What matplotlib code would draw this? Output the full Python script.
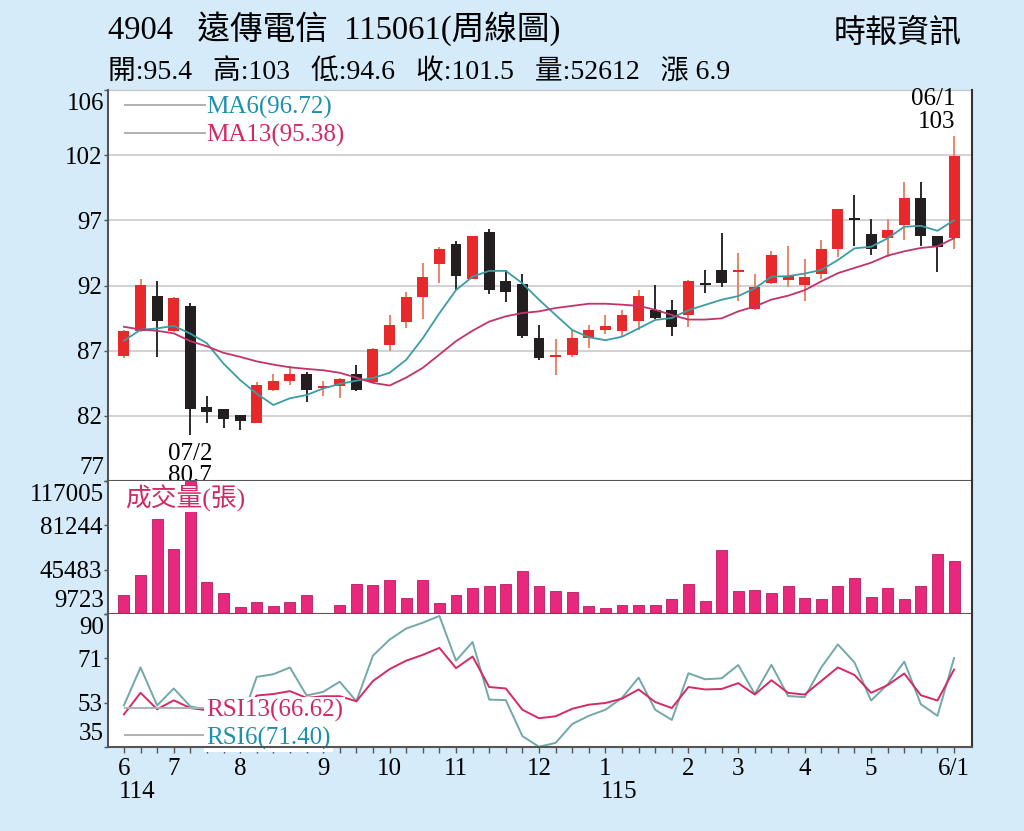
import matplotlib
matplotlib.use("Agg")
import matplotlib.pyplot as plt
from matplotlib.lines import Line2D
from matplotlib.transforms import offset_copy
import numpy as np

plt.rcParams['font.family'] = ['Liberation Serif', 'Noto Sans CJK TC']

# ---------------- data ----------------
opens = [86.6, 88.46, 91.09, 88.46, 90.31, 82.80, 82.61, 82.22, 81.63, 84.07,
         84.75, 85.24, 84.17, 84.36, 85.24, 84.65, 87.38, 89.14, 90.99, 93.43,
         94.98, 92.35, 95.86, 92.16, 91.96, 87.97, 86.51, 86.70, 87.97, 88.55,
         88.46, 89.23, 90.01, 90.01, 89.62, 91.96, 93.04, 92.84, 90.11, 92.06,
         92.26, 91.87, 92.74, 94.59, 96.79, 95.67, 95.37, 96.35, 98.40, 95.57, 95.4]
closes = [88.46, 91.87, 89.23, 90.89, 82.61, 82.41, 81.92, 81.73, 84.46, 84.75,
          85.24, 84.07, 84.36, 84.85, 84.07, 87.09, 88.94, 90.99, 92.45, 94.59,
          92.55, 95.57, 91.48, 91.38, 88.07, 86.41, 86.70, 87.97, 88.55, 88.84,
          89.62, 91.09, 89.43, 88.75, 92.16, 91.91, 92.06, 93.04, 91.77, 94.11,
          92.55, 92.45, 94.59, 97.52, 96.74, 94.55, 95.96, 98.40, 95.57, 94.69, 101.5]
highs = [88.56, 92.36, 92.16, 90.99, 90.51, 83.58, 82.61, 82.22, 84.65, 85.24,
         85.82, 85.43, 84.75, 84.95, 85.92, 87.19, 89.62, 91.38, 93.53, 94.69,
         95.18, 95.57, 96.05, 93.04, 92.74, 88.94, 87.87, 88.55, 88.94, 89.62,
         90.01, 91.48, 91.87, 90.79, 92.26, 93.04, 95.76, 94.30, 92.74, 94.40,
         94.79, 93.82, 95.28, 97.52, 98.59, 96.84, 96.84, 99.57, 99.57, 95.57, 103.0]
lows = [86.43, 88.37, 86.51, 88.37, 80.7, 81.63, 81.24, 81.05, 81.63, 83.97,
        84.46, 83.19, 83.58, 83.48, 83.97, 84.55, 86.99, 88.65, 89.33, 92.06,
        91.48, 92.35, 91.19, 90.60, 87.97, 86.31, 85.14, 86.51, 87.19, 88.26,
        88.07, 88.55, 89.33, 88.07, 88.75, 91.28, 91.77, 90.70, 90.01, 91.96,
        91.77, 90.70, 92.35, 94.01, 94.79, 94.11, 94.01, 95.28, 94.79, 92.84, 94.6]
ma6 = [87.73, 88.55, 88.65, 88.84, 88.26, 87.54, 86.02, 84.80, 83.78, 82.94,
       83.44, 83.68, 84.17, 84.51, 84.75, 84.95, 85.34, 86.31, 87.92, 89.78,
       91.51, 92.51, 92.94, 92.94, 92.01, 90.79, 89.65, 88.53, 87.99, 87.77,
       88.03, 88.65, 89.28, 89.43, 90.01, 90.40, 90.79, 91.06, 91.64, 92.51,
       92.55, 92.74, 93.01, 93.75, 94.62, 94.74, 95.37, 96.23, 96.30, 95.93, 96.72]
ma13 = [88.77, 88.57, 88.47, 88.28, 87.70, 87.31, 86.83, 86.53, 86.19, 85.95,
        85.75, 85.63, 85.53, 85.34, 84.98, 84.59, 84.39, 84.98, 85.71, 86.70,
        87.70, 88.48, 89.16, 89.55, 89.80, 89.92, 90.17, 90.33, 90.49, 90.49,
        90.42, 90.33, 90.04, 89.65, 89.31, 89.31, 89.40, 89.92, 90.29, 90.80,
        91.09, 91.50, 92.16, 92.77, 93.16, 93.55, 94.08, 94.40, 94.65, 94.77, 95.38]
volume = [25290, 40940, 86350, 62150, 117005, 35290, 26660, 15610, 19160, 16180,
          19400, 25290, 9723, 16740, 33920, 33360, 37150, 22630, 37150, 18350,
          25290, 30940, 32550, 33920, 44170, 32060, 28030, 27230, 16420, 14560,
          17220, 17220, 17220, 22060, 33680, 20450, 61590, 28030, 28840, 26660,
          32060, 22630, 22060, 32060, 38760, 23190, 30940, 21820, 32550, 58360, 52612]
rsi6 = [51.8, 67.5, 51.8, 58.8, 51.4, 50.0, 45.0, 44.0, 63.6, 64.7,
        67.5, 55.9, 57.4, 61.6, 53.5, 72.4, 79.0, 83.6, 86.0, 88.8,
        70.3, 78.0, 54.2, 54.0, 39.1, 34.7, 36.3, 44.1, 47.5, 50.0,
        54.9, 63.3, 50.0, 45.8, 65.1, 62.6, 63.0, 68.5, 56.5, 68.6,
        55.7, 55.2, 67.5, 77.0, 69.6, 53.8, 60.5, 69.9, 52.3, 47.5, 71.4]
rsi13 = [48.1, 57.0, 50.2, 53.9, 50.7, 49.8, 48.0, 47.0, 55.9, 56.5,
         57.7, 54.9, 55.6, 55.6, 53.5, 61.9, 66.8, 70.3, 72.7, 75.6,
         67.2, 72.0, 59.4, 58.8, 50.0, 46.5, 47.3, 50.4, 52.1, 52.8,
         54.6, 58.4, 53.2, 50.7, 59.4, 58.4, 58.6, 61.0, 56.3, 62.2,
         57.0, 56.3, 61.9, 67.5, 64.4, 57.0, 60.2, 65.0, 56.0, 53.8, 66.62]

month_idx = [0, 3, 7, 12, 16, 20, 25, 29, 34, 37, 41, 45, 50]
month_labels = ['6', '7', '8', '9', '10', '11', '12', '1', '2', '3', '4', '5', '6/1']
year_idx = [0, 29]
year_labels = ['114', '115']

price_ticks = [77.27, 82.13, 86.99, 91.85, 96.71, 101.57, 106.43]
price_tick_labels = ['77', '82', '87', '92', '97', '102', '106']
vol_ticks = [9723, 45483, 81244, 117005]
vol_tick_labels = ['9723', '45483', '81244', '117005']
rsi_ticks = [34.6, 52.93, 71.27, 89.6]
rsi_tick_labels = ['35', '53', '71', '90']

# ---------------- styling ----------------
BG = '#d5ebf9'
UP = '#e8292b'
DOWN = '#231f20'
UP_WICK = '#ec8468'
DOWN_WICK = '#2a2a2a'
TEAL = '#3b9ca6'
MAG = '#c2336a'
VOLC = '#e8287c'
RSI6C = '#72a8a8'
RSI13C = '#d42a66'
TXT_TEAL = '#1f8fae'
TXT_MAG = '#d12a62'
SPINE = '#555555'
FS = 18

fig = plt.figure(figsize=(10.24, 8.31), dpi=100, facecolor=BG)
W, H = 1024, 831
L = 108 / W
AW = 864 / W
ax1 = fig.add_axes([L, 1 - 481 / H, AW, 391 / H])
ax2 = fig.add_axes([L, 1 - 614 / H, AW, 133 / H], sharex=ax1)
ax3 = fig.add_axes([L, 1 - 747 / H, AW, 133 / H], sharex=ax1)

x = np.arange(len(closes))
xlim = (-0.96, 51.08)

# ---------------- price panel ----------------
for i in range(len(closes)):
    o, c, h, l = opens[i], closes[i], highs[i], lows[i]
    up = c >= o
    ax1.vlines(x[i], l, h, color=UP_WICK if up else DOWN_WICK, lw=1.4, zorder=2)
    body = max(abs(c - o), 0.12)
    ax1.bar(x[i], body, bottom=min(o, c), width=0.66,
            color=UP if up else DOWN, edgecolor='none', zorder=3)

ax1.plot(x, ma6, color=TEAL, lw=1.3, zorder=4)
ax1.plot(x, ma13, color=MAG, lw=1.3, zorder=4)

ax1.set_xlim(*xlim)
ax1.set_ylim(price_ticks[0], price_ticks[-1])
ax1.set_yticks(price_ticks, labels=price_tick_labels)
ax1.yaxis.grid(True, color='#cfcfcf', lw=1.3, zorder=0)
ax1.set_axisbelow(True)
ax1.tick_params(axis='x', which='both', bottom=False, labelbottom=False)

leg1 = ax1.legend([Line2D([], [], color='#b0b0b0', lw=1.4),
                   Line2D([], [], color='#b0b0b0', lw=1.4)],
                  ['MA6(96.72)', 'MA13(95.38)'],
                  loc='upper left', bbox_to_anchor=(0.0197, 0.984),
                  frameon=False, fontsize=FS, handlelength=3.2,
                  handletextpad=0.05, labelspacing=0.18, borderaxespad=0,
                  borderpad=0)
for t, col in zip(leg1.get_texts(), [TXT_TEAL, TXT_MAG]):
    t.set_color(col)

ax1.annotate('07/2\n80.7', xy=(4, lows[4]), xytext=(0, -8),
             textcoords='offset pixels', ha='center', va='top',
             fontsize=FS, linespacing=1.0, clip_on=True, annotation_clip=False)
ax1.annotate('06/1\n103', xy=(50, highs[50]), xytext=(1, 3),
             textcoords='offset pixels', ha='right', va='bottom',
             multialignment='right', fontsize=FS, linespacing=1.08,
             annotation_clip=False)

# ---------------- volume panel ----------------
ax2.bar(x, np.array(volume) - vol_ticks[0], bottom=vol_ticks[0], width=0.66,
        color=VOLC, edgecolor='#b51d5e', lw=0.6, zorder=3)
ax2.set_ylim(vol_ticks[0], vol_ticks[-1])
ax2.set_yticks(vol_ticks, labels=vol_tick_labels)
ax2.tick_params(axis='x', which='both', bottom=False, labelbottom=False)
ax2.text(0.0197, 0.87, '成交量(張)', transform=ax2.transAxes, fontsize=18.5,
         color=TXT_MAG, ha='left', va='center', zorder=6,
         bbox=dict(facecolor='white', edgecolor='none', pad=0))

# ---------------- RSI panel ----------------
ax3.plot(x, rsi6, color=RSI6C, lw=1.4, zorder=3)
ax3.plot(x, rsi13, color=RSI13C, lw=1.4, zorder=3)
ax3.set_ylim(rsi_ticks[0], rsi_ticks[-1])
ax3.set_yticks(rsi_ticks, labels=rsi_tick_labels)
leg3 = ax3.legend([Line2D([], [], color='#b0b0b0', lw=1.4),
                   Line2D([], [], color='#b0b0b0', lw=1.4)],
                  ['RSI13(66.62)', 'RSI6(71.40)'],
                  loc='upper left', bbox_to_anchor=(0.0197, 0.362),
                  frameon=False, fontsize=FS, handlelength=3.2,
                  handletextpad=0.05, labelspacing=0.18, borderaxespad=0,
                  borderpad=0)
for t, col in zip(leg3.get_texts(), [TXT_MAG, TXT_TEAL]):
    t.set_color(col)
    t.set_bbox(dict(facecolor='white', edgecolor='none', pad=1.5))

ax3.set_xticks(month_idx, labels=month_labels)
ax3.set_xticks(x, minor=True)
ax3.tick_params(axis='x', which='both', direction='out', length=4, width=1,
                color=SPINE, labelsize=FS, pad=4)
for xi, lab in zip(year_idx, year_labels):
    ax3.text(xi - 0.3, -0.34, lab, transform=ax3.get_xaxis_transform(),
             ha='left', va='center', fontsize=FS, clip_on=False)

# ---------------- common axis styling ----------------
for ax in (ax1, ax2, ax3):
    ax.set_facecolor('white')
    ax.tick_params(axis='y', direction='out', length=3, width=1, color=SPINE,
                   labelsize=FS, pad=1)
    for s in ('left', 'bottom', 'right'):
        ax.spines[s].set_color(SPINE)
        ax.spines[s].set_linewidth(1.5)
        ax.spines[s].set_zorder(6)
    ax.spines['top'].set_visible(False)
    ax.spines['right'].set_color('#333333')
ax1.spines['top'].set_visible(True)
ax1.spines['top'].set_color('#c8c8c8')
ax1.spines['top'].set_linewidth(1.0)

# end labels of each y axis sit inside the panel, as in the reference
for ax in (ax1, ax2, ax3):
    labs = ax.get_yticklabels()
    for lab, dy in ((labs[0], 13), (labs[-1], -14)):
        lab.set_visible(False)
        tr = offset_copy(ax.transAxes, fig=fig, x=-4, y=dy, units='dots')
        ax.text(0, 0 if dy > 0 else 1, lab.get_text(), transform=tr,
                ha='right', va='center', fontsize=FS, clip_on=False)

# ---------------- header ----------------
fig.text(108 / W, 1 - 29 / H, '4904   遠傳電信  115061(周線圖)', fontsize=23.5,
         ha='left', va='center')
fig.text(108 / W, 1 - 72 / H,
         '開:95.4   高:103   低:94.6   收:101.5   量:52612   漲 6.9',
         fontsize=20, ha='left', va='center')
fig.text(962 / W, 1 - 34 / H, '時報資訊', fontsize=23, ha='right', va='center')

fig.savefig('out.png', dpi=100, facecolor=BG)
